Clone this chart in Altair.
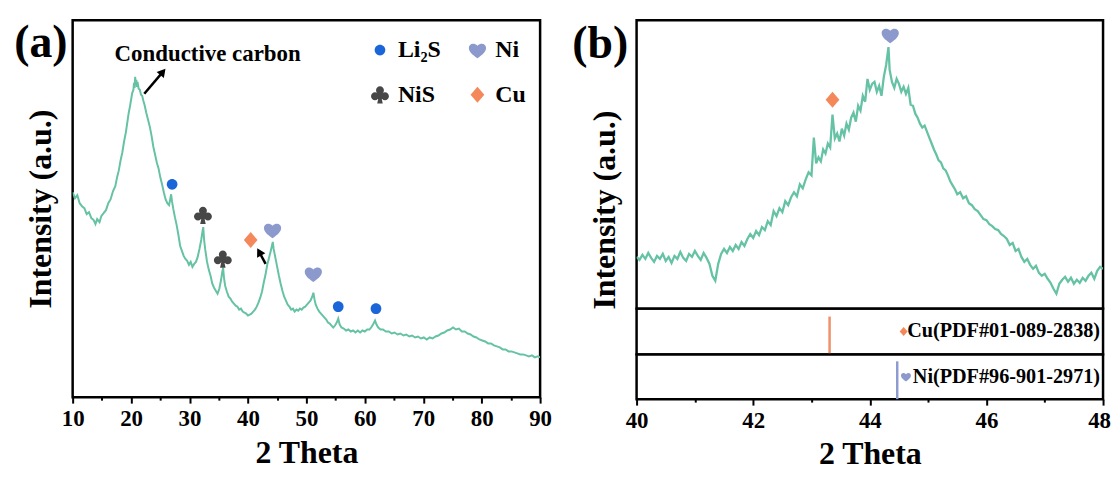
import altair as alt
import pandas as pd

FONT = "Liberation Serif"
CURVE = "#66c2a5"

# ---------------- Panel (a): full XRD pattern (2theta, intensity a.u.) ----------------
spectrum_a = [
    (10.0, 206), (10.4, 200), (10.8, 203), (11.2, 195), (11.6, 192), (12.0, 190), (12.4, 184),
    (12.8, 186), (13.2, 180), (13.6, 178), (13.9, 174), (14.2, 179), (14.6, 176), (14.9, 182),
    (15.3, 185), (15.7, 188), (16.1, 195), (16.5, 199), (16.9, 207), (17.3, 212), (17.6, 221),
    (17.9, 228), (18.2, 238), (18.5, 246), (18.8, 257), (19.1, 266), (19.3, 274), (19.6, 286),
    (19.8, 292), (20.0, 299), (20.2, 306), (20.4, 309), (20.5, 316), (20.6, 311), (20.7, 322),
    (20.8, 314), (20.9, 319), (21.0, 312), (21.1, 317), (21.3, 310), (21.5, 309), (21.7, 304),
    (21.9, 303), (22.1, 298), (22.3, 294), (22.6, 286), (22.9, 279), (23.2, 272), (23.5, 263),
    (23.8, 252), (24.1, 244), (24.4, 236), (24.7, 230), (25.0, 221), (25.3, 214), (25.6, 206),
    (25.9, 199), (26.2, 195), (26.5, 193), (26.7, 199), (26.85, 204), (27.0, 197), (27.2, 190),
    (27.5, 181), (27.8, 173), (28.1, 163), (28.4, 152), (28.7, 147), (29.0, 142), (29.3, 139),
    (29.6, 137), (29.9, 133), (30.2, 136), (30.5, 131), (30.8, 134), (31.1, 136), (31.4, 141),
    (31.7, 149), (32.0, 158), (32.2, 166), (32.35, 171), (32.5, 158), (32.7, 148), (33.0, 136),
    (33.3, 128), (33.6, 122), (33.9, 114), (34.2, 110), (34.5, 107), (34.8, 104), (35.1, 109),
    (35.4, 118), (35.6, 126), (35.75, 130), (35.9, 120), (36.1, 112), (36.4, 106), (36.7, 101),
    (37.0, 99), (37.3, 96), (37.6, 94), (37.9, 92), (38.2, 91), (38.5, 88), (38.8, 89),
    (39.1, 86), (39.4, 85), (39.7, 84), (40.0, 82), (40.3, 83), (40.6, 84), (40.9, 86),
    (41.2, 88), (41.5, 91), (41.8, 95), (42.1, 100), (42.4, 106), (42.7, 115), (43.0, 123),
    (43.3, 133), (43.6, 140), (43.9, 147), (44.1, 152), (44.25, 156), (44.4, 149), (44.7, 140),
    (45.0, 131), (45.3, 122), (45.6, 114), (45.9, 107), (46.2, 101), (46.5, 97), (46.8, 93),
    (47.1, 91), (47.4, 88), (47.7, 89), (48.0, 86), (48.3, 88), (48.6, 87), (48.9, 89),
    (49.2, 88), (49.5, 90), (49.8, 91), (50.1, 93), (50.4, 95), (50.7, 97), (51.0, 101),
    (51.2, 105), (51.4, 98), (51.6, 93), (51.9, 89), (52.2, 86), (52.5, 84), (52.8, 82),
    (53.1, 80), (53.4, 78), (53.7, 75), (54.0, 74), (54.3, 72), (54.6, 70), (54.9, 72),
    (55.2, 75), (55.45, 79), (55.7, 73), (56.0, 70), (56.4, 69), (56.8, 67), (57.2, 68),
    (57.6, 66), (58.0, 67), (58.4, 65), (58.8, 67), (59.2, 65), (59.6, 67), (60.0, 66),
    (60.4, 68), (60.8, 68), (61.2, 71), (61.5, 74), (61.75, 77), (62.0, 73), (62.3, 70),
    (62.7, 68), (63.1, 68), (63.6, 66), (64.1, 66), (64.6, 64), (65.1, 65), (65.6, 63),
    (66.1, 64), (66.6, 62), (67.1, 63), (67.6, 61), (68.1, 62), (68.6, 60), (69.1, 61),
    (69.6, 59), (70.1, 60), (70.6, 58), (71.1, 60), (71.6, 59), (72.1, 61), (72.6, 62),
    (73.1, 64), (73.6, 65), (74.1, 67), (74.6, 68), (75.1, 70), (75.6, 68), (76.1, 69),
    (76.6, 66), (77.1, 66), (77.6, 64), (78.1, 63), (78.6, 61), (79.1, 60), (79.6, 58),
    (80.1, 57), (80.6, 56), (81.1, 54), (81.6, 54), (82.1, 52), (82.6, 51), (83.1, 50),
    (83.6, 48), (84.1, 48), (84.6, 46), (85.1, 46), (85.6, 45), (86.1, 44), (86.6, 43),
    (87.1, 43), (87.6, 42), (88.1, 41), (88.6, 42), (89.1, 40), (89.6, 41), (90.0, 40),
]

# legend order (column-major in the legend grid): Li2S, NiS | Ni, Cu
phases = ["Li\u2082S", "NiS", "Ni", "Cu"]
phase_colors = ["#1a66d9", "#474747", "#8c99cc", "#f5885a"]

marker_phase_a = ["Li\u2082S", "NiS", "NiS", "Cu", "Ni", "Ni", "Li\u2082S", "Li\u2082S"]
marker_theta_a = [27.02, 32.30, 35.70, 40.47, 44.21, 51.19, 55.45, 61.91]
marker_int_a = [214, 183, 139, 158, 168, 124, 91, 89]

arrow_tail_theta = [22.26, 43.02]
arrow_tail_int = [305, 134]
arrow_head_theta = [25.44, 41.93]
arrow_head_int = [327, 146]
arrow_angle = [40, 331]

note_text = ["Conductive carbon"]
note_theta = [33.1]
note_int = [345]

# ---------------- Panel (b): zoom 40-48 degrees ----------------
spectrum_b = [
    (40.00, 52), (40.05, 49), (40.10, 54), (40.15, 50), (40.20, 56), (40.25, 51), (40.30, 47),
    (40.35, 53), (40.40, 50), (40.45, 55), (40.50, 48), (40.55, 52), (40.60, 46), (40.65, 53),
    (40.70, 50), (40.75, 57), (40.80, 51), (40.85, 48), (40.90, 55), (40.95, 52), (41.00, 58),
    (41.05, 53), (41.10, 49), (41.15, 56), (41.20, 51), (41.25, 45), (41.30, 33), (41.35, 28),
    (41.40, 45), (41.45, 55), (41.50, 60), (41.55, 56), (41.60, 62), (41.65, 58), (41.70, 64),
    (41.75, 60), (41.80, 67), (41.85, 63), (41.90, 70), (41.95, 75), (42.00, 71), (42.05, 78),
    (42.10, 74), (42.15, 82), (42.20, 79), (42.25, 88), (42.30, 84), (42.35, 98), (42.40, 93),
    (42.45, 101), (42.50, 97), (42.55, 108), (42.60, 104), (42.65, 112), (42.70, 117),
    (42.75, 113), (42.80, 125), (42.85, 121), (42.90, 130), (42.95, 137), (43.00, 134),
    (43.04, 172), (43.08, 146), (43.12, 152), (43.16, 148), (43.20, 160), (43.24, 156),
    (43.28, 166), (43.32, 162), (43.36, 195), (43.40, 171), (43.44, 176), (43.48, 168),
    (43.52, 181), (43.56, 174), (43.60, 186), (43.64, 180), (43.68, 192), (43.72, 197),
    (43.76, 188), (43.80, 204), (43.84, 199), (43.88, 214), (43.92, 208), (43.96, 231),
    (44.00, 220), (44.04, 226), (44.08, 228), (44.12, 218), (44.16, 224), (44.20, 214),
    (44.24, 233), (44.28, 245), (44.32, 263), (44.34, 240), (44.38, 228), (44.42, 222),
    (44.46, 231), (44.50, 226), (44.54, 218), (44.58, 223), (44.62, 216), (44.66, 222),
    (44.70, 205), (44.74, 204), (44.78, 196), (44.82, 192), (44.86, 186), (44.90, 182),
    (44.94, 184), (44.98, 178), (45.02, 172), (45.06, 166), (45.10, 160), (45.14, 155),
    (45.18, 149), (45.22, 147), (45.26, 141), (45.30, 139), (45.34, 134), (45.38, 128),
    (45.42, 124), (45.46, 120), (45.50, 115), (45.55, 117), (45.60, 111), (45.65, 113),
    (45.70, 106), (45.75, 104), (45.80, 100), (45.85, 98), (45.90, 94), (45.95, 90),
    (46.00, 89), (46.05, 85), (46.10, 83), (46.15, 80), (46.20, 79), (46.25, 75), (46.30, 73),
    (46.35, 70), (46.40, 64), (46.45, 66), (46.50, 58), (46.55, 60), (46.60, 52), (46.65, 47),
    (46.70, 50), (46.75, 44), (46.80, 40), (46.85, 43), (46.90, 36), (46.95, 33), (47.00, 35),
    (47.05, 30), (47.10, 26), (47.15, 20), (47.20, 15), (47.25, 25), (47.30, 29), (47.35, 32),
    (47.40, 27), (47.45, 31), (47.50, 25), (47.55, 29), (47.60, 26), (47.65, 31), (47.70, 28),
    (47.75, 33), (47.80, 36), (47.85, 30), (47.90, 38), (47.95, 42), (48.00, 40),
]

marker_phase_b = ["Cu", "Ni"]
marker_theta_b = [43.36, 44.35]
marker_int_b = [210, 275]

ref_cards = ["Cu(PDF#01-089-2838)", "Ni(PDF#96-901-2971)"]
ref_phase = ["Cu", "Ni"]
ref_theta = [43.31, 44.47]
ref_height = [38, 38]
ref_colors = ["#f0906a", "#8d9bd0"]
ref_symbol_theta = [44.58, 44.62]

# ---------------- symbol shapes (SVG paths in unit space) ----------------
def circ(cx, cy, r):
    return (f"M{cx - r},{cy} A{r},{r} 0 1 1 {cx + r},{cy} "
            f"A{r},{r} 0 1 1 {cx - r},{cy} Z")

SHAPES = {
    "Li\u2082S": circ(0, 0, 0.62),
    "Ni": ("M0,0.95 C-0.3,0.7 -1,0.3 -1,-0.25 C-1,-0.7 -0.45,-0.95 0,-0.5 "
           "C0.45,-0.95 1,-0.7 1,-0.25 C1,0.3 0.3,0.7 0,0.95 Z"),
    "NiS": (circ(0, -0.52, 0.46) + " " + circ(-0.58, 0.16, 0.46) + " " + circ(0.58, 0.16, 0.46)
            + " M-0.3,-0.25 L0.3,-0.25 L0.3,0.3 L-0.3,0.3 Z"
            + " M-0.1,0.0 L0.1,0.0 L0.32,1.02 L-0.32,1.02 Z"),
    "Cu": "M0,-0.92 L0.8,0 L0,0.92 L-0.8,0 Z",
}

# ---------------- data frames ----------------
df_a = pd.DataFrame(spectrum_a, columns=["t", "i"])
df_ma = pd.DataFrame({"p": marker_phase_a, "t": marker_theta_a, "i": marker_int_a})
df_arrow = pd.DataFrame({"t": arrow_tail_theta, "i": arrow_tail_int,
                         "t2": arrow_head_theta, "i2": arrow_head_int, "ang": arrow_angle})
df_note = pd.DataFrame({"s": note_text, "t": note_theta, "i": note_int})

df_b = pd.DataFrame(spectrum_b, columns=["t", "i"])
df_mb = pd.DataFrame({"p": marker_phase_b, "t": marker_theta_b, "i": marker_int_b})

# ---------------- panel (a) ----------------
xs_a = alt.Scale(domain=[10, 90], nice=False, zero=False)
ys_a = alt.Scale(domain=[0, 379], nice=False, zero=False)

xa_axis = alt.Axis(
    values=list(range(10, 91, 5)),
    labelExpr="datum.value % 10 === 0 ? datum.label : ''",
    tickSize={"condition": {"test": "datum.value % 10 === 0", "value": 6}, "value": 3},
    tickWidth=2, tickColor="black", domain=False, grid=False,
    labelFlush=False, labelOverlap=False, labelPadding=5,
    title="2 Theta", titlePadding=7,
)
ya_axis = alt.Axis(title="Intensity (a.u.)", labels=False, ticks=False, domain=False,
                   grid=False, titlePadding=15)

X_a = alt.X("t:Q", scale=xs_a, axis=xa_axis)
Y_a = alt.Y("i:Q", scale=ys_a, axis=ya_axis)

line_a = alt.Chart(df_a).mark_line(color=CURVE, strokeWidth=2, clip=True).encode(x=X_a, y=Y_a)

legend_a = alt.Legend(
    title=None, orient="none", legendX=297, legendY=18, columns=2,
    columnPadding=24, rowPadding=21, labelOffset=6, symbolSize=300,
    labelFont=FONT, labelFontSize=24, labelFontWeight="bold", labelColor="black",
    padding=0, symbolStrokeWidth=0, symbolOpacity=1,
)
shape_scale = alt.Scale(domain=phases, range=[SHAPES[p] for p in phases])
color_scale = alt.Scale(domain=phases, range=phase_colors)

markers_a = alt.Chart(df_ma).mark_point(filled=True, size=300, opacity=1, strokeWidth=0).encode(
    x=X_a, y=Y_a,
    shape=alt.Shape("p:N", scale=shape_scale, legend=legend_a),
    color=alt.Color("p:N", scale=color_scale, legend=legend_a),
)

arrow_lines = alt.Chart(df_arrow).mark_rule(color="black", strokeWidth=2.5).encode(
    x=X_a, y=Y_a, x2="t2:Q", y2="i2:Q")
arrow_heads = alt.Chart(df_arrow).mark_point(
    shape="triangle-up", filled=True, size=90, color="black", opacity=1).encode(
    x=alt.X("t2:Q", scale=xs_a, axis=xa_axis), y=alt.Y("i2:Q", scale=ys_a, axis=ya_axis),
    angle=alt.Angle("ang:Q", scale=None))

note = alt.Chart(df_note).mark_text(font=FONT, fontSize=23, fontWeight="bold", color="black",
                                    baseline="middle").encode(x=X_a, y=Y_a, text="s:N")

tag_a = alt.Chart(pd.DataFrame({"s": ["(a)"]})).mark_text(
    font=FONT, fontSize=46, fontWeight="bold", color="black", align="center",
    baseline="alphabetic").encode(text="s:N", x=alt.value(-32), y=alt.value(37))

panel_a = alt.layer(line_a, arrow_lines, arrow_heads, markers_a, note, tag_a).properties(
    width=470, height=379)

# ---------------- panel (b) ----------------
xs_b = alt.Scale(domain=[40, 48], nice=False, zero=False)
ys_b = alt.Scale(domain=[0, 290], nice=False, zero=False)
yb_axis = alt.Axis(title="Intensity (a.u.)", labels=False, ticks=False, domain=False,
                   grid=False, titlePadding=15, titleY=190.5)

Xb_none = alt.X("t:Q", scale=xs_b, axis=None)
Y_b = alt.Y("i:Q", scale=ys_b, axis=yb_axis)

line_b = alt.Chart(df_b).mark_line(color=CURVE, strokeWidth=2.3, clip=True).encode(x=Xb_none, y=Y_b)

mk_layers = []
for k, ph in enumerate(marker_phase_b):
    mk_layers.append(
        alt.Chart(df_mb.iloc[[k]]).mark_point(filled=True, size=300, opacity=1, strokeWidth=0).encode(
            x=Xb_none, y=Y_b,
            shape=alt.value(SHAPES[ph]),
            color=alt.value(phase_colors[phases.index(ph)]),
        )
    )

tag_b = alt.Chart(pd.DataFrame({"s": ["(b)"]})).mark_text(
    font=FONT, fontSize=46, fontWeight="bold", color="black", align="center",
    baseline="alphabetic").encode(text="s:N", x=alt.value(-36.5), y=alt.value(38.5))

main_b = alt.layer(line_b, *mk_layers, tag_b).properties(width=469, height=290)

xb_axis = alt.Axis(
    values=list(range(40, 49)),
    labelExpr="datum.value % 2 === 0 ? datum.label : ''",
    labelOffset={"condition": {"test": "datum.value === 48", "value": -4}, "value": 0},
    tickSize={"condition": {"test": "datum.value % 2 === 0", "value": 6}, "value": 3},
    tickWidth=2, tickColor="black", domain=False, grid=False,
    labelFlush=False, labelOverlap=False, labelPadding=5,
    title="2 Theta", titlePadding=6,
)


def ref_panel(k, h, show_axis):
    ys = alt.Scale(domain=[0, h], nice=False, zero=False)
    xenc = alt.X("t:Q", scale=xs_b, axis=xb_axis if show_axis else None)
    stick_df = pd.DataFrame({"t": [ref_theta[k]], "lo": [0], "hi": [ref_height[k]]})
    stick = alt.Chart(stick_df).mark_rule(color=ref_colors[k], strokeWidth=2.5).encode(
        x=xenc, y=alt.Y("lo:Q", scale=ys, axis=None), y2="hi:Q")
    lab_df = pd.DataFrame({"t": [48], "i": [h / 2], "s": [ref_cards[k]]})
    lab = alt.Chart(lab_df).mark_text(font=FONT, fontSize=20.3, fontWeight="bold", color="black",
                                      align="right", baseline="middle", dx=-3).encode(
        x=xenc, y=alt.Y("i:Q", scale=ys, axis=None), text="s:N")
    sym_df = pd.DataFrame({"t": [ref_symbol_theta[k]], "i": [h / 2]})
    sym = alt.Chart(sym_df).mark_point(filled=True, size=100, opacity=1, strokeWidth=0).encode(
        x=xenc, y=alt.Y("i:Q", scale=ys, axis=None),
        shape=alt.value(SHAPES[ref_phase[k]]),
        color=alt.value(phase_colors[phases.index(ref_phase[k])]))
    return alt.layer(stick, lab, sym).properties(width=469, height=h)


cu_b = ref_panel(0, 46, False)
ni_b = ref_panel(1, 45, True)

panel_b = alt.vconcat(main_b, cu_b, ni_b, spacing=0, bounds="flush").resolve_scale(y="independent")

chart = (
    alt.hconcat(panel_a, panel_b, spacing=18)
    .resolve_scale(color="independent", shape="independent")
    .properties(padding={"left": 4, "top": 9, "right": 0, "bottom": 0})
    .configure_view(stroke="black", strokeWidth=2.5)
    .configure_axis(labelFont=FONT, labelFontSize=23, labelFontWeight="bold", labelColor="black",
                    titleFont=FONT, titleFontSize=32, titleFontWeight="bold", titleColor="black",
                    grid=False)
)

chart.save("out.html", embed_options={"renderer": "svg", "actions": False})
